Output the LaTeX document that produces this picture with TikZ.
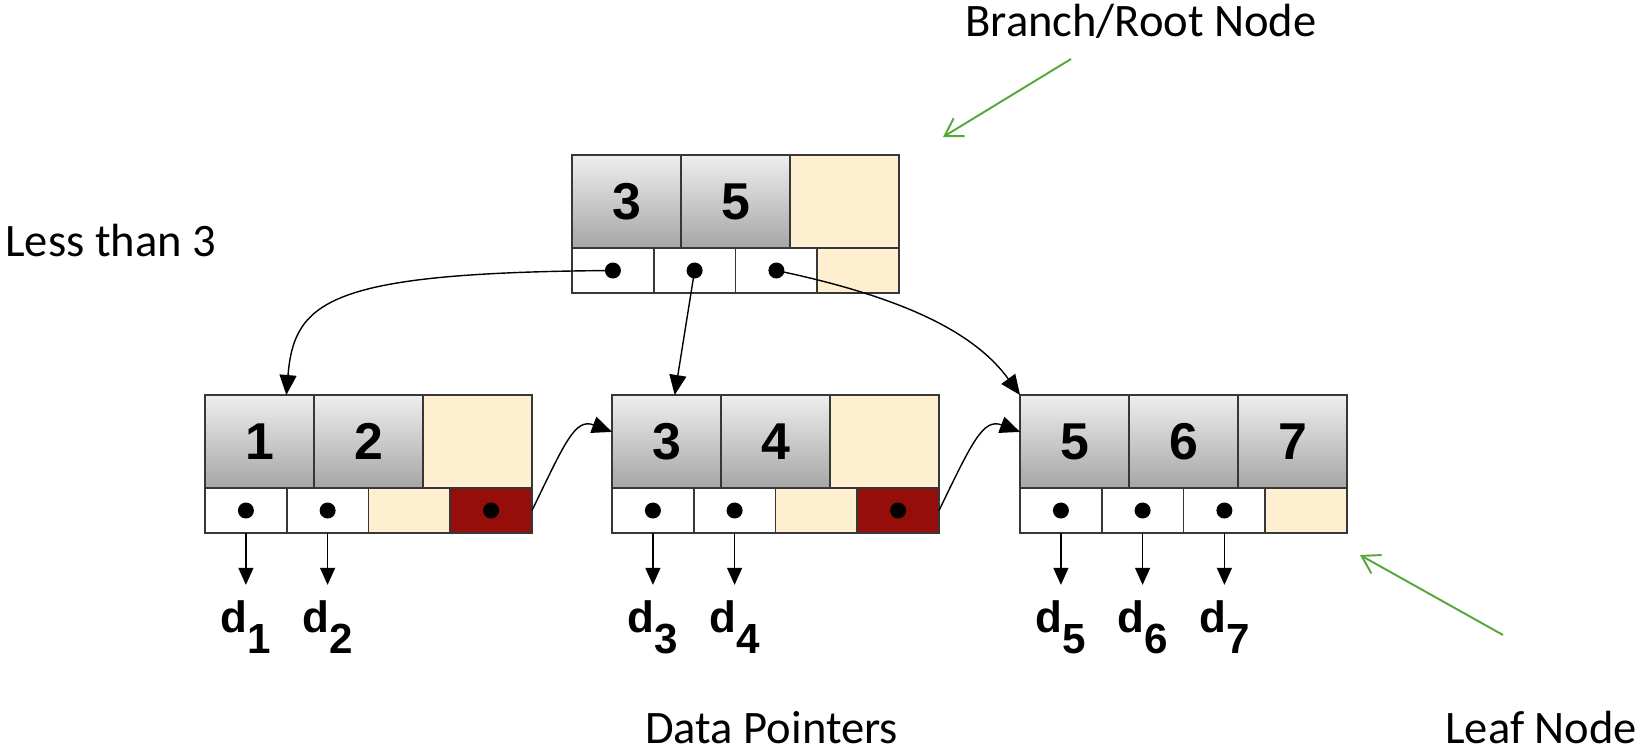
\documentclass[tikz,border=0pt]{standalone}
\usepackage{fontspec}
\setmainfont{Carlito}
\newfontfamily\helv{Liberation Sans}
\usetikzlibrary{arrows.meta}

\definecolor{keytop}{RGB}{238,238,238}
\definecolor{keybot}{RGB}{166,166,166}
\definecolor{spare}{RGB}{253,239,207}
\definecolor{linkred}{RGB}{150,14,10}
\definecolor{cellline}{RGB}{55,55,55}
\definecolor{notegreen}{RGB}{84,168,56}

\newcommand{\dsub}[1]{d\raisebox{-0.5em}{\fontsize{24}{24}\selectfont #1}}

\tikzset{
	cell/.style={draw=cellline,line width=0.9pt,inner sep=0pt,outer sep=0pt},
	key/.style={cell,top color=keytop,bottom color=keybot,minimum width=2.18cm,minimum height=1.86cm,font=\helv\bfseries\fontsize{29.5}{30}\selectfont},
	nokey/.style={cell,fill=spare,minimum width=2.18cm,minimum height=1.86cm},
	ptr/.style={cell,fill=white,minimum width=1.635cm,minimum height=0.9cm,path picture={\fill[black] (path picture bounding box.center) circle[radius=0.16cm];}},
	noptr/.style={cell,fill=spare,minimum width=1.635cm,minimum height=0.9cm},
	nextptr/.style={ptr,fill=linkred},
	dlab/.style={inner xsep=0pt,inner ysep=0.3cm,anchor=base,font=\helv\bfseries\fontsize{25}{25}\selectfont},
	notetext/.style={inner sep=0pt,anchor=base west,font=\fontsize{26.5}{27}\selectfont},
	treearrow/.style={line width=0.8pt,-{Triangle[length=0.4cm,width=0.34cm]}},
	dataarrow/.style={line width=0.8pt,-{Triangle[length=0.34cm,width=0.3cm]}},
	notearrow/.style={notegreen,line width=1.1pt,-{Straight Barb[length=0.34cm,width=0.42cm]}}
}

\begin{document}
\begin{tikzpicture}[x=0.02cm,y=-0.02cm]
	\useasboundingbox (0,0) rectangle (1639,748);
	% root
	\node[key] (rk1) at (626.5,201.5) {3};
	\node[key] (rk2) at (735.5,201.5) {5};
	\node[nokey] (rk3) at (844.5,201.5) {};
	\node[ptr] (rp1) at (612.9,270.5) {};
	\node[ptr] (rp2) at (694.6,270.5) {};
	\node[ptr] (rp3) at (776.4,270.5) {};
	\node[noptr] (rp4) at (858.1,270.5) {};
	% leaf 1
	\node[key] (l1k1) at (259.5,441.5) {1};
	\node[key] (l1k2) at (368.5,441.5) {2};
	\node[nokey] (l1k3) at (477.5,441.5) {};
	\node[ptr] (l1p1) at (245.9,510.5) {};
	\node[ptr] (l1p2) at (327.6,510.5) {};
	\node[noptr] (l1p3) at (409.4,510.5) {};
	\node[nextptr] (l1p4) at (491.1,510.5) {};
	% leaf 2
	\node[key] (l2k1) at (666.5,441.5) {3};
	\node[key] (l2k2) at (775.5,441.5) {4};
	\node[nokey] (l2k3) at (884.5,441.5) {};
	\node[ptr] (l2p1) at (652.9,510.5) {};
	\node[ptr] (l2p2) at (734.6,510.5) {};
	\node[noptr] (l2p3) at (816.4,510.5) {};
	\node[nextptr] (l2p4) at (898.1,510.5) {};
	% leaf 3
	\node[key] (l3k1) at (1074.5,441.5) {5};
	\node[key] (l3k2) at (1183.5,441.5) {6};
	\node[key] (l3k3) at (1292.5,441.5) {7};
	\node[ptr] (l3p1) at (1060.9,510.5) {};
	\node[ptr] (l3p2) at (1142.6,510.5) {};
	\node[ptr] (l3p3) at (1224.4,510.5) {};
	\node[noptr] (l3p4) at (1306.1,510.5) {};
	% data labels
	\node[dlab] (d1) at (245.9,632) {\dsub{1}};
	\node[dlab] (d2) at (327.6,632) {\dsub{2}};
	\node[dlab] (d3) at (652.9,632) {\dsub{3}};
	\node[dlab] (d4) at (734.6,632) {\dsub{4}};
	\node[dlab] (d5) at (1060.9,632) {\dsub{5}};
	\node[dlab] (d6) at (1142.6,632) {\dsub{6}};
	\node[dlab] (d7) at (1224.4,632) {\dsub{7}};
	% notes
	\node[notetext] (less) at (5,256) {Less than 3};
	\node[notetext] (branch) at (965,36) {Branch/Root Node};
	\node[notetext] (datap) at (645,743) {Data Pointers};
	\node[notetext] (leafn) at (1445,743) {Leaf Node};
	\coordinate (g1s) at (1071,59);
	\coordinate (g1e) at (943,137);
	\coordinate (g2s) at (1503,635);
	\coordinate (g2e) at (1360,555);
	% tree pointers
	\draw[treearrow] (rp1.center) .. controls +(-283,2) and +(8,-95) .. (l1k1.60);
	\draw[treearrow] (rp2.center) -- (l2k1.80);
	\draw[treearrow] (rp3.center) .. controls +(144,30) and +(-40,-55) .. (l3k1.north west);
	\draw[treearrow] (l1p4.east) .. controls +(33,-68) and +(-37,-14) .. (l2k1.170);
	\draw[treearrow] (l2p4.east) .. controls +(33,-68) and +(-37,-14) .. (l3k1.170);
	% data pointers
	\draw[dataarrow] (l1p1.south) -- (d1.north);
	\draw[dataarrow] (l1p2.south) -- (d2.north);
	\draw[dataarrow] (l2p1.south) -- (d3.north);
	\draw[dataarrow] (l2p2.south) -- (d4.north);
	\draw[dataarrow] (l3p1.south) -- (d5.north);
	\draw[dataarrow] (l3p2.south) -- (d6.north);
	\draw[dataarrow] (l3p3.south) -- (d7.north);
	% green notes
	\draw[notearrow] (g1s) -- (g1e);
	\draw[notearrow] (g2s) -- (g2e);
\end{tikzpicture}
\end{document}
